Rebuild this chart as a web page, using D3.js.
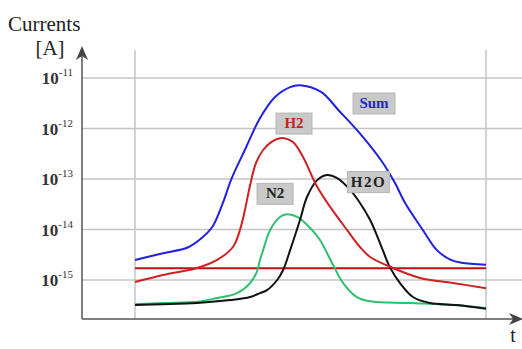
<!DOCTYPE html>
<html>
<head>
<meta charset="utf-8">
<script src="https://cdn.jsdelivr.net/npm/d3@7"></script>
<style>
	body { margin: 0; background: #fff; }
	svg text { font-family: "Liberation Serif", "DejaVu Serif", serif; }
</style>
</head>
<body>
<div id="chart"></div>
<script>
// time is in arbitrary units (0 = left grid line, 100 = right grid line)
// currents in ampere
var decades = [1e-11, 1e-12, 1e-13, 1e-14, 1e-15];
var tickExp = ["-11", "-12", "-13", "-14", "-15"];

var sumPts = [[0, 2.5e-15], [8, 3.4e-15], [15, 4.4e-15], [19, 6.8e-15], [22, 1.12e-14], [24.8, 3.05e-14],
	[27.6, 1.05e-13], [31.3, 3.75e-13], [35.6, 1.6e-12], [39.9, 4.2e-12], [44.2, 6.6e-12], [47, 7.2e-12],
	[53, 5.3e-12], [58, 2.3e-12], [64, 8.1e-13], [70, 2.4e-13], [74, 8.5e-14], [77, 3.3e-14],
	[82, 9.8e-15], [86, 3.9e-15], [90, 2.5e-15], [93, 2.2e-15], [100, 2.0e-15]];

var h2Pts = [[0, 9.1e-16], [8, 1.26e-15], [17.7, 1.73e-15], [23.4, 2.5e-15], [27.9, 4.5e-15], [29.9, 9.8e-15],
	[31.3, 2.4e-14], [32.8, 7.6e-14], [34.5, 2.1e-13], [36.5, 3.75e-13], [38.5, 5.2e-13], [40.5, 6.2e-13],
	[42.2, 6.5e-13], [45, 5.4e-13], [47.9, 2.7e-13], [51.9, 7.0e-14], [55.6, 2.8e-14], [60.4, 9.8e-15],
	[64.1, 4.5e-15], [67, 2.85e-15], [73.5, 1.73e-15], [81.2, 1.1e-15], [90.6, 8.7e-16], [100, 6.9e-16]];

var n2Pts = [[0, 3.3e-16], [8, 3.5e-16], [17.7, 3.7e-16], [23.4, 4.4e-16], [29.1, 5.5e-16], [32.8, 8.7e-16],
	[34.8, 1.5e-15], [35.6, 2.5e-15], [36.5, 3.9e-15], [38.5, 9.8e-15], [41.3, 1.77e-14], [43.3, 2.0e-14],
	[46.2, 1.77e-14], [49.9, 1.07e-14], [52.7, 6.2e-15], [56.4, 2.0e-15], [59.3, 8.7e-16], [63.2, 4.6e-16],
	[67, 3.8e-16], [78.3, 3.5e-16], [90.6, 3.2e-16], [100, 2.8e-16]];

var h2oPts = [[0, 3.2e-16], [8, 3.3e-16], [17.7, 3.5e-16], [27.1, 4.0e-16], [32.8, 4.6e-16], [35.6, 5.5e-16],
	[37.6, 6.3e-16], [40.5, 1.0e-15], [42.2, 1.58e-15], [44.2, 3.9e-15], [47, 1.54e-14], [49, 4.4e-14],
	[51.9, 9.5e-14], [54.7, 1.2e-13], [57.5, 1.05e-13], [61.3, 6.1e-14], [64.1, 3.35e-14], [67, 1.54e-14],
	[69.8, 5.4e-15], [72.6, 1.8e-15], [75.5, 8.7e-16], [79.2, 4.6e-16], [84, 3.5e-16], [91.7, 3.2e-16], [100, 2.7e-16]];

var baseline = 1.7e-15;

var labels = [
	{ text: "Sum", color: "#2222dd", t: 68.1, v: 3.2e-12 },
	{ text: "H2", color: "#cc2222", t: 45.3, v: 1.28e-12 },
	{ text: "N2", color: "#222", t: 39.9, v: 5.2e-14 },
	{ text: "H2O", color: "#222", t: 66.5, v: 8.9e-14 }
];

var width = 522, height = 349;
var x0 = 82, yBottom = 319;

var x = d3.scaleLinear().domain([0, 100]).range([135, 486]);
var y = d3.scaleLog().domain([1e-11, 1e-15]).range([78, 280]);

var svg = d3.select("#chart").append("svg")
	.attr("width", width)
	.attr("height", height)
	.attr("font-family", "'Liberation Serif', 'DejaVu Serif', serif");

// grid
var grid = svg.append("g").attr("class", "grid");
grid.selectAll("line.h").data(decades).enter().append("line")
	.attr("x1", x0).attr("x2", width)
	.attr("y1", function(d){ return y(d) }).attr("y2", function(d){ return y(d) })
	.attr("stroke", "#c4c4c4").attr("stroke-width", 1.5);
grid.selectAll("line.v").data([0, 100]).enter().append("line")
	.attr("x1", function(d){ return x(d) }).attr("x2", function(d){ return x(d) })
	.attr("y1", 50).attr("y2", yBottom)
	.attr("stroke", "#c4c4c4").attr("stroke-width", 1.5);

// tick labels 10^n
var ticks = svg.append("g").attr("class", "ticks");
ticks.selectAll("text").data(decades).enter().append("text")
	.attr("x", 73)
	.attr("y", function(d){ return y(d) + 6 })
	.attr("text-anchor", "end")
	.attr("fill", "#333")
	.style("font-size", "17px")
	.style("font-weight", "bold")
	.each(function(d, i){
		var t = d3.select(this);
		t.append("tspan").text("10");
		t.append("tspan").attr("dy", -8).style("font-size", "11px").style("font-weight", "normal").text(tickExp[i]);
	});

// lines
var line = d3.line()
	.x(function(d){ return x(d[0]) })
	.y(function(d){ return y(d[1]) })
	.curve(d3.curveCatmullRom.alpha(0.5));

var curves = svg.append("g").attr("class", "curves");
curves.append("line")
	.attr("x1", x(0)).attr("x2", x(100))
	.attr("y1", y(baseline)).attr("y2", y(baseline))
	.attr("stroke", "#bb1111").attr("stroke-width", 2);

var series = [
	{ pts: n2Pts, color: "#2fbf6f" },
	{ pts: h2oPts, color: "#111" },
	{ pts: h2Pts, color: "#cc2222" },
	{ pts: sumPts, color: "#2020e0" }
];
curves.selectAll("path").data(series).enter().append("path")
	.attr("d", function(d){ return line(d.pts) })
	.attr("fill", "none")
	.attr("stroke", function(d){ return d.color })
	.attr("stroke-width", 2);

// axes with arrows
var axes = svg.append("g").attr("class", "axes");
axes.append("line").attr("x1", x0).attr("x2", x0).attr("y1", yBottom).attr("y2", 54)
	.attr("stroke", "#555").attr("stroke-width", 1.5);
axes.append("line").attr("x1", x0).attr("x2", 516).attr("y1", yBottom).attr("y2", yBottom)
	.attr("stroke", "#555").attr("stroke-width", 1.5);
axes.append("path")
	.attr("d", "M" + x0 + ",46 L" + (x0 + 6) + ",60 L" + x0 + ",56 L" + (x0 - 6) + ",60 Z")
	.attr("fill", "#444");
axes.append("path")
	.attr("d", "M523," + yBottom + " L509," + (yBottom - 6) + " L513," + yBottom + " L509," + (yBottom + 6) + " Z")
	.attr("fill", "#444");

svg.append("text").attr("x", 8).attr("y", 31).style("font-size", "21px").attr("fill", "#222").text("Currents");
svg.append("text").attr("x", 50).attr("y", 55).attr("text-anchor", "middle").style("font-size", "21px").attr("fill", "#222").text("[A]");
svg.append("text").attr("x", 513).attr("y", 342).attr("text-anchor", "middle").style("font-size", "20px").attr("fill", "#222").text("t");

// labels
var lab = svg.append("g").attr("class", "labels").selectAll("g").data(labels).enter().append("g")
	.attr("transform", function(d){ return "translate(" + x(d.t) + "," + y(d.v) + ")" });
lab.append("rect")
	.attr("x", function(d){ return d.text.length > 2 ? -21 : -18 })
	.attr("y", -10)
	.attr("width", function(d){ return d.text.length > 2 ? 42 : 36 })
	.attr("height", 21)
	.attr("fill", "#c9c9c9")
	.attr("stroke", "#b5b5b5");
lab.append("text")
	.attr("text-anchor", "middle")
	.attr("y", 5)
	.attr("fill", function(d){ return d.color })
	.style("font-size", "15px")
	.style("font-weight", "bold")
	.style("letter-spacing", function(d){ return d.text == "H2O" ? "1.5px" : "0px" })
	.text(function(d){ return d.text });
</script>
</body>
</html>
